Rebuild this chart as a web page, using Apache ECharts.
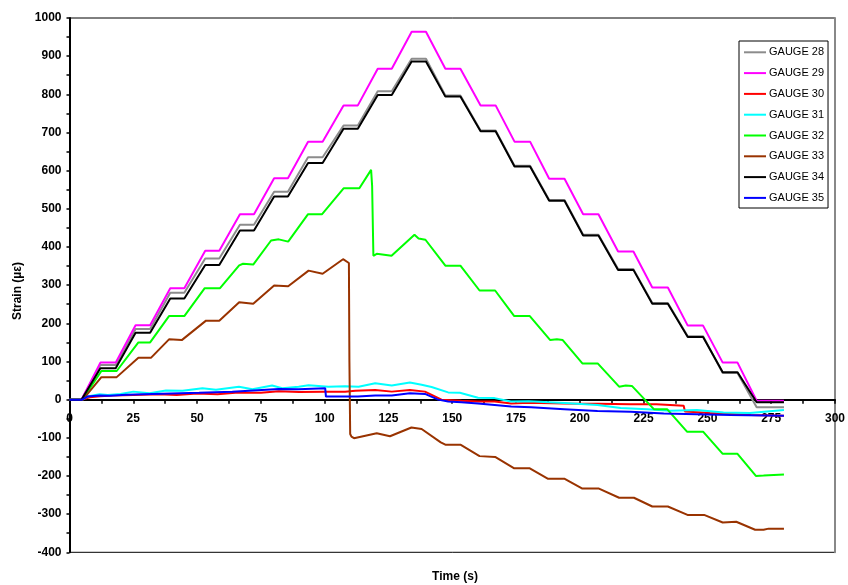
<!DOCTYPE html>
<html>
<head>
<meta charset="utf-8">
<script src="https://cdn.jsdelivr.net/npm/echarts@6/dist/echarts.min.js"></script>
<style>
html,body{margin:0;padding:0;background:#fff;}
#chart{width:848px;height:585px;}
</style>
</head>
<body>
<div id="chart"></div>
<script>
// ---- DATA ----
const seriesNames = ['GAUGE 28','GAUGE 29','GAUGE 30','GAUGE 31','GAUGE 32','GAUGE 33','GAUGE 34','GAUGE 35'];
const xTicks = [0,25,50,75,100,125,150,175,200,225,250,275,300];
const yTicks = [-400,-300,-200,-100,0,100,200,300,400,500,600,700,800,900,1000];

// shared time points for the stepped load gauges (s)
const stepTimes = [0,4.7,12.1,18.1,25.9,31.6,39.5,45,53.2,58.7,66.8,72.3,80.2,85.6,93.5,99.2,107.4,113,120.8,126.3,134.1,139.7,
  147.3,153.2,161.1,167,174.4,180.5,188,194,201.3,207.3,215,221,228.4,234.5,242.3,248.3,256,261.8,269.3,280];
const gauge28 = [0,0,91,91,185,185,280,280,370,370,458,458,545,545,635,635,718,718,808,808,893,893,
  797,797,705,705,613,613,523,523,432,432,342,342,253,253,166,166,70,70,-20,-20];
const gauge29 = [0,0,97,97,195,195,292,292,390,390,486,486,580,580,676,676,771,771,867,867,964,964,
  867,867,771,771,676,676,579,579,486,486,388,388,294,294,194,194,97,97,-3,-3];
const gauge34 = [0,0,82,82,175,175,265,265,353,353,443,443,532,532,620,620,710,710,798,798,886,886,
  794,794,703,703,611,611,521,521,430,430,340,340,251,251,164,164,72,72,-7,-7];

// [time, strain] readings for the other gauges
const gauge30 = [[0,0],[5,0],[8,6],[12,9],[17,11],[25,12],[35,14],[42,12],[50,16],[58,14],[65,18],[75,18],[82,22],[90,20],
  [100,21],[108,21],[112,23],[119.8,25],[126.3,21],[133.4,25],[139.3,21],[145.8,0],[153.6,-3],[160.1,-5],[166.6,-5],
  [173.1,-10],[180,-8],[194,-10],[207,-11],[220,-12],[230,-12],[240.7,-16],[241.2,-31],[251,-35],[267,-40],[280,-42]];
const gauge31 = [[0,0],[5,0],[7,8],[11.8,14],[15,12],[20,15],[25,21],[31.4,17],[37.8,24],[44.3,23],[52.1,30],[57.4,26],
  [66.4,34],[71.7,27],[79.4,37],[83.4,30],[89.8,34],[93.7,38],[101.5,34],[108,35],[113.3,34],[119.8,43],[126.3,37],
  [133.4,45],[138,39],[141.9,33],[148.4,19],[153,18],[160.1,5],[166.6,4],[173,-5],[180,-4],[194,-9],[206.9,-14],
  [216,-22],[226.4,-25],[235.5,-29],[245.9,-27],[256.3,-34],[266.7,-35],[280,-27]];
const gauge32 = [[0,0],[5,0],[12.5,75],[18.5,75],[27,150],[31.6,150],[39,219],[45,219],[53,292],[59,292],[66.5,352],
  [68,356],[72,354],[79,417],[82,420],[85.7,414],[93.5,486],[99,486],[107.5,554],[113.6,554],[118.2,602],[118.6,560],
  [119.1,377],[120.4,382],[126.2,377],[135.2,432],[136.8,422],[139.5,419],[147.3,351],[153.2,351],[160.7,286],
  [166.8,286],[174.3,219],[180.4,219],[188.4,156],[191,158],[193.3,156],[201,95],[207,95],[215.4,34],[218,37],
  [220.4,36],[229,-25],[234.2,-25],[242,-84],[248.3,-84],[256,-142],[261.8,-142],[269,-200],[272,-199],[280,-196]];
const gauge33 = [[0,0],[5.2,0],[12.5,59],[18.5,59],[27,110],[32,110],[39,158],[44,156],[53.5,207],[58.7,207],[66.5,255],
  [72,251],[80.2,299],[85.7,297],[93.7,338],[99.2,330],[107.2,368],[109.5,358],[109.7,100],[110,-90],[110.5,-97],
  [111.5,-101],[120.4,-88],[125.6,-96],[134,-73],[138,-77],[145.5,-112],[147.3,-118],[153.2,-118],[160.7,-148],
  [166.8,-150],[174.3,-180],[180.4,-180],[187.4,-207],[193.9,-207],[201,-233],[207.5,-233],[215.4,-257],[221.2,-257],
  [228.4,-280],[234.5,-280],[242.2,-302],[248.7,-302],[256,-322],[261.3,-320],[268.7,-341],[272,-341],[274,-338],[280,-338]];
const gauge35 = [[0,0],[5,0],[7,8],[11.8,11],[15.7,10],[22.2,13],[32.6,15],[50.8,18],[63.8,21],[82,28],[89.8,27],
  [100.2,30],[100.5,8],[108,8],[113,8],[119.8,11],[126.3,11],[133.4,17],[139.3,15],[144.5,0],[148.4,-5],[153.6,-7],
  [160.1,-10],[166.6,-14],[173.1,-18],[180.9,-20],[193.9,-25],[206.9,-30],[219.9,-32],[232.9,-36],[245.9,-38],
  [258.9,-40],[280,-42]];

const colors = ['#8c8c8c','#ff00ff','#ff0000','#00ffff','#00ff00','#993300','#000000','#0000ff'];

// ---- BUILD ----
const pair = (vals) => stepTimes.map((t, i) => [t, vals[i]]);
const allData = [pair(gauge28), pair(gauge29), gauge30, gauge31, gauge32, gauge33, pair(gauge34), gauge35];

const FONT = '"Liberation Sans", Arial, sans-serif';
const W = 848, H = 585;
const gridL = 69.5, gridR = 9, gridT = 18, gridB = 32.7;
const yMin = yTicks[0], yMax = yTicks[yTicks.length - 1];
// move the x axis (line, ticks, labels) up to the zero line of the strain scale
const zeroOffset = -(0 - yMin) / (yMax - yMin) * (H - gridT - gridB);

const chart = echarts.init(document.getElementById('chart'), null, {renderer: 'canvas'});

chart.setOption({
  animation: false,
  backgroundColor: '#fff',
  grid: {left: gridL, right: gridR, top: gridT, bottom: gridB, show: true, borderColor: '#000', borderWidth: 1, backgroundColor: 'transparent'},
  legend: {
    orient: 'vertical', left: 739, top: 41,
    padding: [5.8, 4, 4.6, 4],
    itemWidth: 22, itemHeight: 11, itemGap: 9.8,
    borderColor: '#000', borderWidth: 1, backgroundColor: '#fff',
    itemStyle: {opacity: 0},
    lineStyle: {width: 2},
    textStyle: {fontFamily: FONT, fontSize: 11, color: '#000', padding: [0, 0, 0, -2]},
    data: seriesNames
  },
  xAxis: {
    type: 'value', min: 0, max: 300, interval: 25, position: 'bottom', offset: zeroOffset,
    axisLine: {show: true, onZero: false, lineStyle: {color: '#000', width: 2}},
    axisTick: {show: true, length: 4, lineStyle: {color: '#000', width: 1.5}},
    minorTick: {show: true, splitNumber: 2, length: 4, lineStyle: {color: '#000', width: 1.5}},
    axisLabel: {margin: 13, fontFamily: FONT, fontWeight: 'bold', fontSize: 12, color: '#000',
      formatter: (v) => xTicks.includes(v) ? String(v) : ''},
    splitLine: {show: false}
  },
  yAxis: [{
    type: 'value', min: yMin, max: yMax, interval: 100,
    axisLine: {show: true, onZero: false, lineStyle: {color: '#000', width: 2}},
    axisTick: {show: true, length: 3, lineStyle: {color: '#000', width: 1.5}},
    minorTick: {show: true, splitNumber: 2, length: 3, lineStyle: {color: '#000', width: 1.5}},
    axisLabel: {margin: 8, fontFamily: FONT, fontWeight: 'bold', fontSize: 12, color: '#000',
      formatter: (v) => yTicks.includes(v) ? String(v) : ''},
    splitLine: {show: false}
  }, {
    type: 'value', min: yMin, max: yMax, interval: 100, position: 'right',
    axisLine: {show: true, onZero: false, lineStyle: {color: '#888', width: 2}},
    axisTick: {show: false}, axisLabel: {show: false}, splitLine: {show: false}
  }],
  graphic: [
    {type: 'text', x: 18, y: 291, rotation: Math.PI / 2,
      style: {text: 'Strain (µε)', font: 'bold 12px ' + FONT, fill: '#000', align: 'center', verticalAlign: 'middle'}},
    {type: 'text', x: 455, y: 577,
      style: {text: 'Time (s)', font: 'bold 12px ' + FONT, fill: '#000', align: 'center', verticalAlign: 'middle'}}
  ],
  series: seriesNames.map((name, i) => ({
    name, type: 'line', data: allData[i], yAxisIndex: 0,
    showSymbol: false, symbol: 'none',
    color: colors[i],
    lineStyle: {color: colors[i], width: 2},
    emphasis: {disabled: true}
  }))
});
</script>
</body>
</html>
